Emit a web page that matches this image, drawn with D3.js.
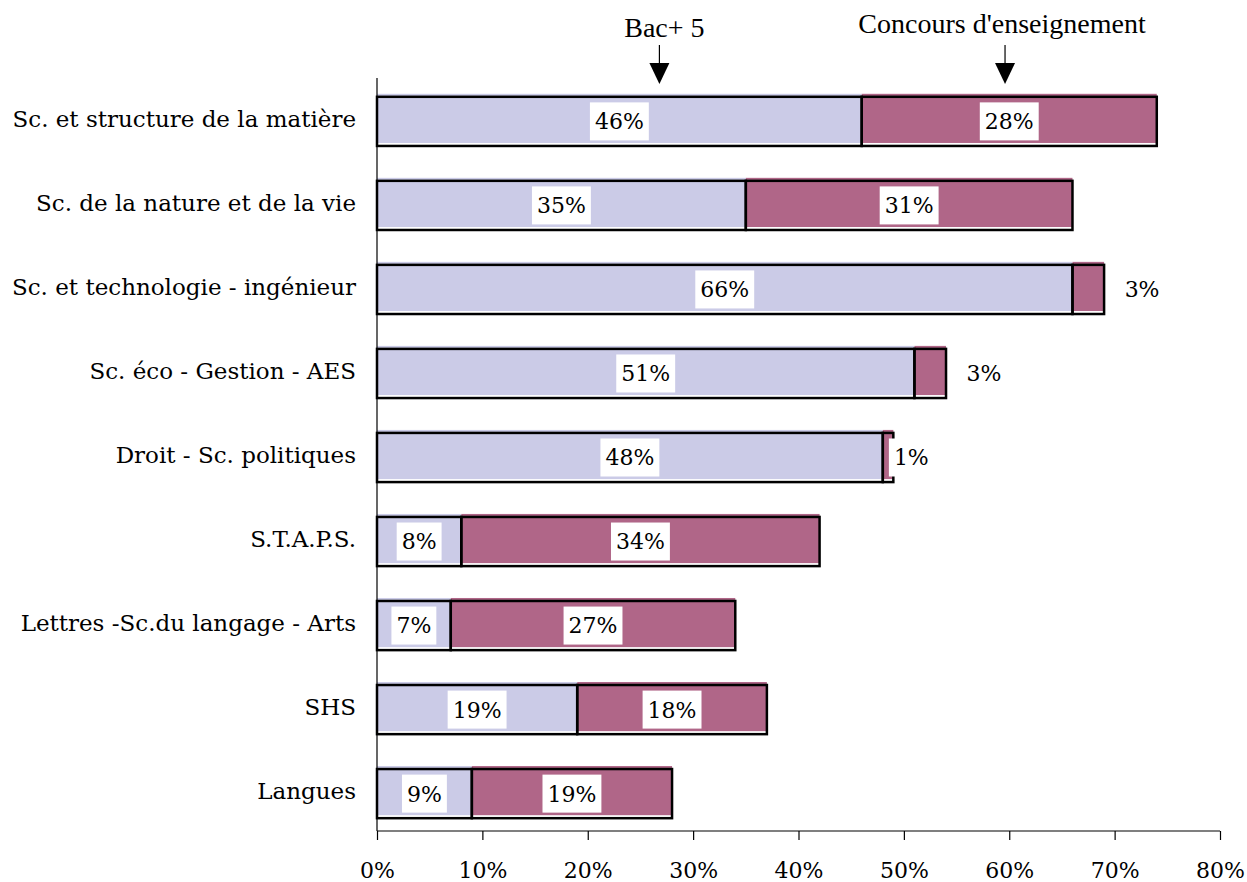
<!DOCTYPE html>
<html>
<head>
<meta charset="utf-8">
<script src="https://cdn.jsdelivr.net/npm/d3@7"></script>
<style>
  body { margin: 0; background: #fff; }
  svg text { font-family: "DejaVu Serif", serif; }
  svg text.ann { font-family: "Liberation Serif", "Times New Roman", serif; }
</style>
</head>
<body>
<div id="chart"></div>
<script>
// Share of graduates by field: Bac+5 vs teaching competitions
const categories = [
  "Sc. et structure de la matière",
  "Sc. de la nature et de la vie",
  "Sc. et technologie - ingénieur",
  "Sc. éco - Gestion - AES",
  "Droit - Sc. politiques",
  "S.T.A.P.S.",
  "Lettres -Sc.du langage - Arts",
  "SHS",
  "Langues"
];
const bac5 = [46, 35, 66, 51, 48, 8, 7, 19, 9];
const concours = [28, 31, 3, 3, 1, 34, 27, 18, 19];
const xTicks = [0, 10, 20, 30, 40, 50, 60, 70, 80];
const annotations = [
  { label: "Bac+ 5", value: 26.8 },
  { label: "Concours d'enseignement", value: 59.6 }
];

const W = 1247, H = 882;
const plotLeft = 377, plotRight = 1220, plotTop = 80, plotBottom = 835, axisY = 831;

const svg = d3.select("#chart").append("svg")
  .attr("width", W)
  .attr("height", H);

const x = d3.scaleLinear().domain([0, 80]).range([plotLeft, plotRight]);
const y = d3.scaleBand().domain(categories).range([plotTop, plotBottom]).paddingInner(0.415).paddingOuter(0.2);

const colors = { bac5: "#cbcbe7", concours: "#b06688" };

const rows = categories.map((c, i) => ({ cat: c, bac5: bac5[i], concours: concours[i] }));

// segments
const segs = [];
rows.forEach(r => {
  segs.push({ cat: r.cat, x0: 0, x1: r.bac5, v: r.bac5, key: "bac5" });
  segs.push({ cat: r.cat, x0: r.bac5, x1: r.bac5 + r.concours, v: r.concours, key: "concours" });
});

const bh = y.bandwidth();
const barG = svg.append("g");

// fill slightly offset upward, as in the original
barG.selectAll("rect.fill")
  .data(segs)
  .join("rect")
  .attr("class", "fill")
  .attr("x", d => x(d.x0))
  .attr("y", d => y(d.cat) - 3)
  .attr("width", d => x(d.x1) - x(d.x0))
  .attr("height", bh)
  .attr("fill", d => colors[d.key]);

barG.selectAll("rect.edge")
  .data(segs)
  .join("rect")
  .attr("class", "edge")
  .attr("x", d => x(d.x0))
  .attr("y", d => y(d.cat))
  .attr("width", d => x(d.x1) - x(d.x0))
  .attr("height", bh)
  .attr("fill", "none")
  .attr("stroke", "#000")
  .attr("stroke-width", 2.5);

// value labels
const labG = svg.append("g");
segs.forEach(d => {
  let cx = (x(d.x0) + x(d.x1)) / 2;
  const small = d.v < 5;
  if (small) cx = x(d.x1) + (d.v <= 1 ? 18 : 38);
  const cy = y(d.cat) + bh / 2;
  const t = labG.append("text")
    .attr("x", cx)
    .attr("y", cy)
    .attr("dy", "0.36em")
    .attr("text-anchor", "middle")
    .attr("font-size", 22)
    .attr("fill", "#000")
    .text(d.v + "%");
  const bb = t.node().getBBox();
  if (!small || d.v <= 1) {
    labG.insert("rect", "text")
      .attr("x", bb.x - 5)
      .attr("y", cy - 19)
      .attr("width", bb.width + 10)
      .attr("height", 38)
      .attr("fill", "#fff");
  }
});
labG.selectAll("text").raise();

// category labels
svg.append("g").selectAll("text")
  .data(categories)
  .join("text")
  .attr("x", 356)
  .attr("y", d => y(d) + bh / 2 - 3)
  .attr("dy", "0.36em")
  .attr("text-anchor", "end")
  .attr("font-size", 23)
  .attr("fill", "#000")
  .text(d => d);

// axes
svg.append("line")
  .attr("x1", plotLeft).attr("x2", plotLeft)
  .attr("y1", 78).attr("y2", axisY)
  .attr("stroke", "#000").attr("stroke-width", 1.2);

const xAxis = svg.append("g")
  .attr("transform", `translate(0,${axisY})`)
  .call(d3.axisBottom(x).tickValues(xTicks).tickSize(9).tickPadding(22).tickFormat(d => d + "%"));
xAxis.attr("font-family", null);
xAxis.select(".domain").attr("d", `M${plotLeft},0H${plotRight}`).attr("stroke-width", 1.2);
xAxis.selectAll(".tick line").attr("stroke-width", 1.2);
xAxis.selectAll("text")
  .attr("font-size", 22)
  .attr("fill", "#000");

// annotations with arrows
const annG = svg.append("g");
annotations.forEach((a, i) => {
  const ax = x(a.value);
  annG.append("text")
    .attr("class", "ann")
    .attr("x", ax + (i === 0 ? 5 : -3))
    .attr("y", i === 0 ? 37 : 33)
    .attr("text-anchor", "middle")
    .attr("font-size", 28)
    .attr("fill", "#000")
    .text(a.label);
  annG.append("line")
    .attr("x1", ax).attr("x2", ax)
    .attr("y1", 45).attr("y2", 64)
    .attr("stroke", "#000").attr("stroke-width", 1.2);
  annG.append("path")
    .attr("d", `M${ax - 10},63L${ax + 10},63L${ax},84Z`)
    .attr("fill", "#000");
});
</script>
</body>
</html>
